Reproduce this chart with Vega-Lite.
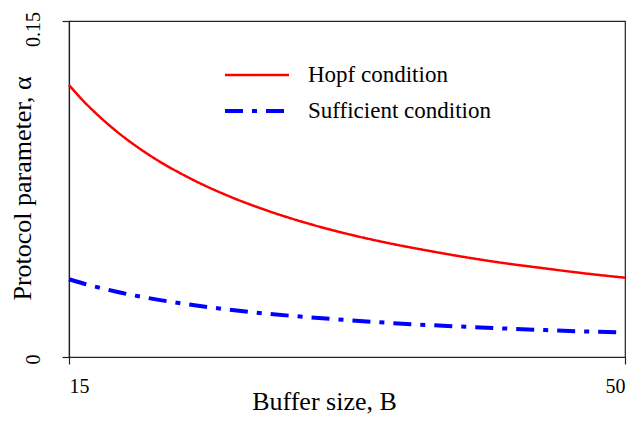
{
  "$schema": "https://vega.github.io/schema/vega-lite/v6.json",
  "width": 556,
  "height": 336,
  "autosize": "none",
  "padding": {"left": 69, "top": 21, "right": 6, "bottom": 69},
  "background": "white",
  "config": {
    "view": {"stroke": "#222", "strokeWidth": 1.2},
    "font": "Liberation Serif"
  },
  "data": {
    "values": [
      {"B": 15, "alpha": 0.1214, "series": "Hopf condition"},
      {"B": 16, "alpha": 0.1136, "series": "Hopf condition"},
      {"B": 17, "alpha": 0.1068, "series": "Hopf condition"},
      {"B": 18, "alpha": 0.1007, "series": "Hopf condition"},
      {"B": 20, "alpha": 0.0904, "series": "Hopf condition"},
      {"B": 22.5, "alpha": 0.0802, "series": "Hopf condition"},
      {"B": 25, "alpha": 0.0720, "series": "Hopf condition"},
      {"B": 27.5, "alpha": 0.0653, "series": "Hopf condition"},
      {"B": 30, "alpha": 0.0597, "series": "Hopf condition"},
      {"B": 32.5, "alpha": 0.0550, "series": "Hopf condition"},
      {"B": 35, "alpha": 0.0510, "series": "Hopf condition"},
      {"B": 37.5, "alpha": 0.0476, "series": "Hopf condition"},
      {"B": 40, "alpha": 0.0445, "series": "Hopf condition"},
      {"B": 42.5, "alpha": 0.0418, "series": "Hopf condition"},
      {"B": 45, "alpha": 0.0395, "series": "Hopf condition"},
      {"B": 47.5, "alpha": 0.0373, "series": "Hopf condition"},
      {"B": 50, "alpha": 0.0354, "series": "Hopf condition"},
      {"B": 15, "alpha": 0.0347, "series": "Sufficient condition"},
      {"B": 16, "alpha": 0.0326, "series": "Sufficient condition"},
      {"B": 17, "alpha": 0.0308, "series": "Sufficient condition"},
      {"B": 18, "alpha": 0.0291, "series": "Sufficient condition"},
      {"B": 20, "alpha": 0.0263, "series": "Sufficient condition"},
      {"B": 22.5, "alpha": 0.0235, "series": "Sufficient condition"},
      {"B": 25, "alpha": 0.0212, "series": "Sufficient condition"},
      {"B": 27.5, "alpha": 0.0193, "series": "Sufficient condition"},
      {"B": 30, "alpha": 0.0178, "series": "Sufficient condition"},
      {"B": 32.5, "alpha": 0.0165, "series": "Sufficient condition"},
      {"B": 35, "alpha": 0.0153, "series": "Sufficient condition"},
      {"B": 37.5, "alpha": 0.0143, "series": "Sufficient condition"},
      {"B": 40, "alpha": 0.0135, "series": "Sufficient condition"},
      {"B": 42.5, "alpha": 0.0127, "series": "Sufficient condition"},
      {"B": 45, "alpha": 0.0120, "series": "Sufficient condition"},
      {"B": 47.5, "alpha": 0.0114, "series": "Sufficient condition"},
      {"B": 50, "alpha": 0.0109, "series": "Sufficient condition"}
    ]
  },
  "mark": {"type": "line", "interpolate": "monotone", "strokeCap": "butt"},
  "encoding": {
    "x": {
      "field": "B", "type": "quantitative",
      "scale": {"domain": [15, 50], "nice": false, "zero": false},
      "axis": {
        "values": [15, 50], "grid": false, "title": "Buffer size, B",
        "domainColor": "#222", "domainWidth": 1.2, "tickColor": "#222", "tickWidth": 1.2, "tickSize": 7,
        "labelFont": "Liberation Serif", "labelFontSize": 20, "labelColor": "#000", "labelPadding": 12,
        "titleFont": "Liberation Serif", "titleFontSize": 26, "titleFontWeight": "normal", "titleColor": "#000",
        "titleX": 255, "titleY": 52, "titleBaseline": "alphabetic", "titleAlign": "center"
      }
    },
    "y": {
      "field": "alpha", "type": "quantitative",
      "scale": {"domain": [0, 0.15], "nice": false},
      "axis": {
        "values": [0, 0.15], "grid": false, "title": "Protocol parameter, α",
        "format": ".2~f",
        "domainColor": "#222", "domainWidth": 1.2, "tickColor": "#222", "tickWidth": 1.2, "tickSize": 7,
        "labelFont": "Liberation Serif", "labelFontSize": 20, "labelColor": "#000", "labelAngle": 270,
        "labelAlign": "center", "labelBaseline": "bottom", "labelPadding": 19,
        "labelOffset": {"condition": {"test": "datum.value > 0", "value": 8}, "value": 2},
        "titleFont": "Liberation Serif", "titleFontSize": 26, "titleFontWeight": "normal", "titleColor": "#000",
        "titleX": -34, "titleY": 167, "titleAngle": 270, "titleAlign": "center", "titleBaseline": "bottom"
      }
    },
    "color": {
      "field": "series", "type": "nominal",
      "scale": {"domain": ["Hopf condition", "Sufficient condition"], "range": ["#ff0000", "#0000ff"]},
      "legend": {
        "title": null, "orient": "none", "legendX": 154, "legendY": 42,
        "symbolType": "stroke", "symbolSize": 4096, "symbolStrokeWidth": 2.5,
        "labelFont": "Liberation Serif", "labelFontSize": 23, "labelColor": "#000", "labelOffset": 17,
        "labelLimit": 400, "clipHeight": 24, "rowPadding": 12, "padding": 0
      }
    },
    "strokeDash": {
      "field": "series", "type": "nominal",
      "scale": {"domain": ["Hopf condition", "Sufficient condition"], "range": [[1, 0], [18, 9, 5, 9]]},
      "legend": {
        "title": null, "orient": "none", "legendX": 154, "legendY": 42,
        "symbolType": "stroke", "symbolSize": 4096, "symbolStrokeWidth": 2.5,
        "labelFont": "Liberation Serif", "labelFontSize": 23, "labelColor": "#000", "labelOffset": 17,
        "labelLimit": 400, "clipHeight": 24, "rowPadding": 12, "padding": 0
      }
    },
    "strokeWidth": {
      "field": "series", "type": "nominal",
      "scale": {"domain": ["Hopf condition", "Sufficient condition"], "range": [2.5, 4]},
      "legend": null
    }
  }
}
